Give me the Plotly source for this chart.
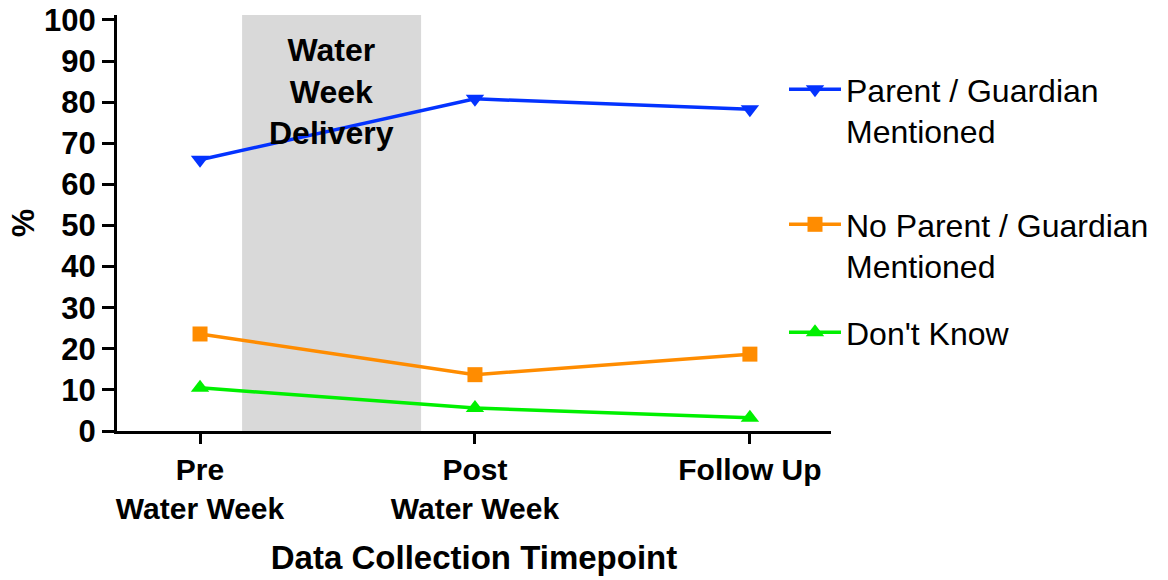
import plotly.graph_objects as go

# Timepoints and responses (% of participants)
timepoints = ["Pre<br>Water Week", "Post<br>Water Week", "Follow Up"]
x_pos = [0, 1, 2]
parent_mentioned = [66.0, 80.8, 78.3]
no_parent_mentioned = [23.6, 13.7, 18.7]
dont_know = [10.5, 5.6, 3.2]

series_names = ["Parent / Guardian<br>Mentioned",
                "No Parent / Guardian<br>Mentioned",
                "Don't Know"]
series_values = [parent_mentioned, no_parent_mentioned, dont_know]
series_colors = ["#0433FF", "#FF8C00", "#00F000"]
series_symbols = ["triangle-down", "square", "triangle-up"]
series_sizes = [16, 15, 16]
legend_ids = ["legend", "legend2", "legend3"]
legend_tops = [62, 197, 305]  # px from top of the figure

# Intervention window between the first two timepoints
band_start, band_end = 0.153, 0.804

FONT = "Liberation Sans, Arial, Helvetica, sans-serif"

fig = go.Figure()

for name, vals, col, sym, sz, lg in zip(series_names, series_values, series_colors,
                                        series_symbols, series_sizes, legend_ids):
    fig.add_trace(go.Scatter(
        x=x_pos, y=vals, name=name, mode="lines+markers",
        line=dict(color=col, width=3.5),
        marker=dict(symbol=sym, size=sz, color=col, line=dict(width=0)),
        legend=lg, showlegend=True,
    ))

fig.add_shape(type="rect", xref="x", yref="y domain",
              x0=band_start, x1=band_end, y0=0, y1=1,
              fillcolor="#D9D9D9", line=dict(width=0), layer="below")

fig.add_annotation(x=(band_start + band_end) / 2, y=82.6, xref="x", yref="y",
                   text="<b>Water<br>Week<br>Delivery</b>", showarrow=False,
                   font=dict(family=FONT, size=32, color="black"),
                   xanchor="center", yanchor="middle", align="center")

legend_common = dict(
    xref="container", yref="container", xanchor="left", yanchor="top",
    font=dict(family=FONT, size=32, color="black"),
    bgcolor="rgba(0,0,0,0)", borderwidth=0, valign="top",
    itemwidth=52, itemclick=False, itemdoubleclick=False,
)

legend_layouts = {
    lg: dict(x=784 / 1168, y=1 - top / 580, **legend_common)
    for lg, top in zip(legend_ids, legend_tops)
}

fig.update_layout(
    width=1168, height=580,
    showlegend=True,
    margin=dict(l=117, r=337, t=15, b=149, autoexpand=False),
    paper_bgcolor="white", plot_bgcolor="white",
    font=dict(family=FONT, color="black"),
    **legend_layouts,
    xaxis=dict(
        range=[-0.302, 2.295], tickvals=x_pos, ticktext=[f"<b>{t}</b>" for t in timepoints],
        showline=True, linewidth=3, linecolor="black", mirror=False,
        ticks="outside", ticklen=10, tickwidth=3, tickcolor="black",
        showgrid=False, zeroline=False,
        tickfont=dict(family=FONT, size=30, color="black"),
        title=dict(text="<b>Data Collection Timepoint</b>", standoff=22,
                   font=dict(family=FONT, size=33, color="black")),
    ),
    yaxis=dict(
        range=[0, 101.2], tick0=0, dtick=10,
        showline=True, linewidth=3, linecolor="black",
        ticks="outside", ticklen=12, tickwidth=3, tickcolor="black",
        showgrid=False, zeroline=False,
        tickfont=dict(family=FONT, size=31, color="black"),
        tickprefix="<b>", ticksuffix="</b>",
        title=dict(text="<b>%</b>", standoff=0,
                   font=dict(family=FONT, size=32, color="black")),
    ),
)

fig.write_html("out.html")
